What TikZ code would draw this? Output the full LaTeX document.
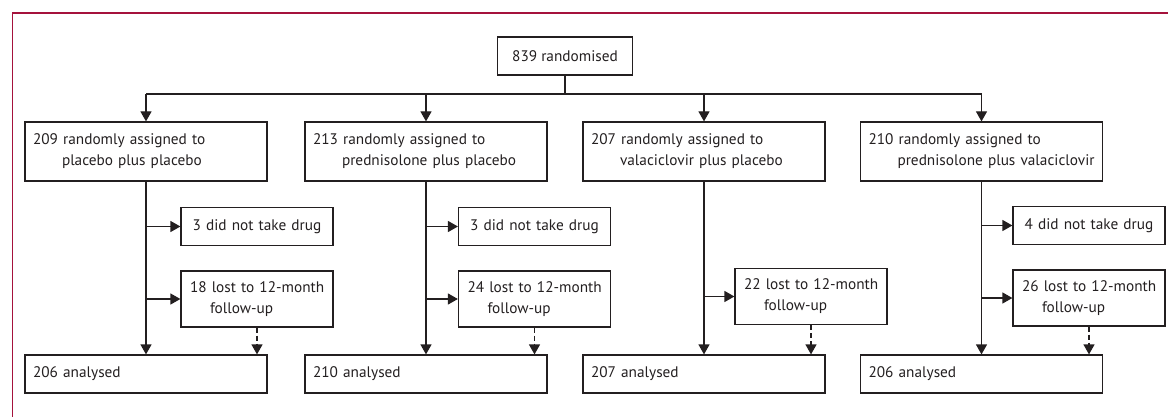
\documentclass[tikz,border=0pt]{standalone}
\usepackage{fontspec}
\setmainfont{PT Sans}
\usetikzlibrary{arrows.meta, positioning}
\definecolor{lancetred}{RGB}{165,18,60}
\definecolor{ink}{RGB}{35,31,32}
\newcommand{\armtext}[2]{\mbox{#1 randomly assigned to}\\\mbox{\hskip29pt #2}}
\newcommand{\losttext}[1]{\mbox{#1 lost to 12-month}\\\mbox{\hskip20pt follow-up}}
\tikzset{>={Triangle[length=10pt, width=11pt]}, x=1pt, y=-1pt,
    box/.style={draw=ink, line width=1.2pt, text=ink, inner xsep=8pt, minimum height=38pt,
        font=\fontsize{15.3}{21}\selectfont},
    armbox/.style={box, text width=226pt, minimum height=59pt, align=left},
    endbox/.style={box, text width=226pt, align=left},
    sidebox/.style={box, inner xsep=9pt, text width=134pt, align=center},
    lostbox/.style={box, inner xsep=9pt, text width=134pt, minimum height=56pt, align=left},
    link/.style={draw=ink, line width=1.2pt},
    droplink/.style={link, ->, dash pattern=on 5pt off 3pt}}
\begin{document}
\begin{tikzpicture}
    \useasboundingbox (0,0) rectangle (1168,417);
    \draw[lancetred, line width=1.2pt] (1168,13) -- (12.5,13) -- (12.5,417);

    \node[box, minimum width=135pt] (rand) at (565,56) {839 randomised};
    \coordinate (split) at (565,94);

    \node[armbox] (arm1) at (146,151.5) {\armtext{209}{placebo plus placebo}};
    \node[armbox] (arm2) at (426,151.5) {\armtext{213}{prednisolone plus placebo}};
    \node[armbox] (arm3) at (704,151.5) {\armtext{207}{valaciclovir plus placebo}};
    \node[armbox] (arm4) at (981.5,151.5) {\armtext{210}{prednisolone plus valaciclovir}};

    \node[sidebox] (drug1) at (257,226.5) {3 did not take drug};
    \node[sidebox] (drug2) at (534.5,226.5) {3 did not take drug};
    \node[sidebox] (drug4) at (1089,225.5) {4 did not take drug};

    \node[lostbox] (lost1) at (257,299) {\losttext{18}};
    \node[lostbox] (lost2) at (534.5,299) {\losttext{24}};
    \node[lostbox] (lost3) at (811,296.5) {\losttext{22}};
    \node[lostbox] (lost4) at (1089,298) {\losttext{26}};

    \node[endbox] (end1) at (146,374) {206 analysed};
    \node[endbox] (end2) at (426,374) {210 analysed};
    \node[endbox] (end3) at (704,374) {207 analysed};
    \node[endbox] (end4) at (981.5,374) {206 analysed};

    % randomisation split
    \draw[link] (rand.south) -- (split);
    \draw[link] (arm1.north |- split) -- (arm4.north |- split);
    \foreach \i in {1,...,4} {
        \draw[link, ->] (arm\i.north |- split) -- (arm\i.north);
        \draw[link, ->] (arm\i.south) -- (end\i.north);
        \draw[droplink] (lost\i.south) -- (lost\i.south |- end\i.north);
        \draw[link, ->] (lost\i.west -| arm\i.south) -- (lost\i.west);
    }
    \foreach \i in {1,2,4}
        \draw[link, ->] (drug\i.west -| arm\i.south) -- (drug\i.west);
\end{tikzpicture}
\end{document}
